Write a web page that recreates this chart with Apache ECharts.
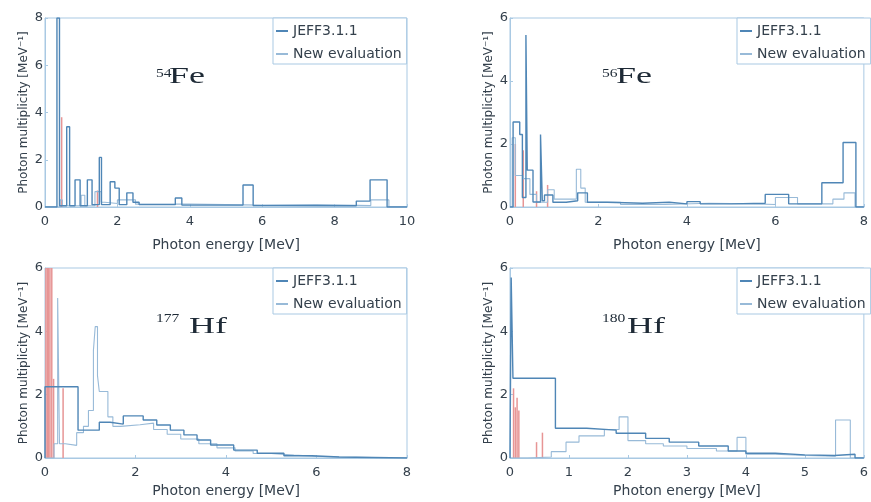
<!DOCTYPE html>
<html>
<head>
<meta charset="utf-8">
<script src="https://cdn.jsdelivr.net/npm/echarts@6/dist/echarts.min.js"></script>
<style>html,body{margin:0;padding:0;background:#fff;}#c{width:871px;height:502px;}</style>
</head>
<body>
<div id="c"></div>
<script>
// ---------- DATA ----------
const seriesNames = ['JEFF3.1.1', 'New evaluation'];
const xTitle = 'Photon energy [MeV]';
const yTitle = 'Photon multiplicity [MeV\u207B\u00B9]';

// 54Fe (x 0..10, y 0..8)
const fe54JeffEdges = [0, 0.33, 0.40, 0.60, 0.68, 0.83, 0.97, 1.17, 1.30, 1.50, 1.56, 1.80, 1.93, 2.05, 2.26, 2.43, 2.6, 3.6, 3.78, 5.47, 5.75, 6.5, 8.6, 8.98, 9.45, 10];
const fe54JeffVals  = [0, 8.0, 0.05, 3.4, 0.05, 1.15, 0.05, 1.15, 0.1, 2.1, 0.1, 1.07, 0.8, 0.1, 0.6, 0.2, 0.1, 0.38, 0.08, 0.93, 0.06, 0.05, 0.25, 1.15, 0];
const fe54NewEdges  = [0, 0.42, 0.48, 1.0, 1.1, 1.38, 1.55, 1.65, 2.0, 2.5, 4, 6, 7.5, 9.0, 9.5, 10];
const fe54NewVals   = [0, 0.3, 0.05, 0.5, 0.05, 0.65, 0.2, 0.15, 0.3, 0.12, 0.08, 0.1, 0.06, 0.3, 0];
const fe54RedX = [0.46, 1.45];
const fe54RedH = [3.8, 0.7];

// 56Fe (x 0..8, y 0..6)
const fe56JeffEdges = [0, 0.07, 0.22, 0.28, 0.36, 0.39, 0.52, 0.69, 0.73, 0.78, 0.97, 1.27, 1.53, 1.75, 2.2, 3.0, 3.6, 4.0, 4.3, 5.0, 5.77, 6.3, 7.05, 7.53, 7.82, 8];
const fe56JeffVals  = [0, 2.7, 2.3, 0.3, 5.46, 1.17, 0.16, 2.3, 0.2, 0.38, 0.15, 0.2, 0.45, 0.15, 0.12, 0.15, 0.1, 0.17, 0.1, 0.12, 0.4, 0.1, 0.77, 2.05, 0];
const fe56NewEdges  = [0, 0.05, 0.12, 0.3, 0.45, 0.6, 0.85, 1.0, 1.5, 1.6, 1.7, 2.5, 3.5, 4.5, 5.5, 6.0, 6.5, 7.0, 7.3, 7.55, 7.8, 8];
const fe56NewVals   = [0, 2.2, 1.0, 0.9, 0.4, 0.15, 0.55, 0.25, 1.2, 0.6, 0.15, 0.08, 0.12, 0.1, 0.08, 0.3, 0.1, 0.1, 0.25, 0.45, 0];
const fe56RedX = [0.12, 0.30, 0.60, 0.85];
const fe56RedH = [2.0, 1.8, 0.5, 0.7];

// 177Hf (x 0..8, y 0..6)
const hf177JeffEdges = [0, 0.73, 1.2, 1.44, 1.73, 2.17, 2.47, 2.77, 3.07, 3.36, 3.66, 4.17, 4.69, 5.28, 5.9, 6.5, 8];
const hf177JeffVals  = [2.25, 0.88, 1.13, 1.07, 1.33, 1.2, 1.04, 0.88, 0.73, 0.57, 0.41, 0.25, 0.15, 0.07, 0.03, 0];
const hf177NewEdges  = [0, 0.2, 0.28, 0.32, 0.45, 0.7, 0.85, 0.96, 1.07, 1.11, 1.16, 1.2, 1.39, 1.5, 1.67, 2.1, 2.4, 2.7, 3.0, 3.4, 3.8, 4.2, 4.6, 5.0, 5.5, 6.0, 6.5, 8];
const hf177NewVals   = [0, 0.45, 5.05, 0.45, 0.4, 0.8, 1.0, 1.5, 3.4, 4.15, 2.6, 2.1, 1.3, 1.0, 1.05, 1.1, 0.9, 0.75, 0.6, 0.45, 0.32, 0.22, 0.14, 0.09, 0.05, 0.03, 0];
const hf177RedX = [0.02, 0.05, 0.08, 0.11, 0.15, 0.19, 0.40];
const hf177RedH = [6.5, 6.5, 6.5, 6.5, 6.5, 2.5, 2.2];

// 180Hf (x 0..6, y 0..6)
const hf180JeffEdges = [0, 0.02, 0.05, 0.77, 1.3, 1.8, 2.3, 2.7, 3.2, 3.7, 4.0, 4.5, 5.0, 5.5, 5.85, 6];
const hf180JeffVals  = [0, 5.7, 2.52, 0.94, 0.88, 0.78, 0.62, 0.5, 0.38, 0.22, 0.15, 0.1, 0.08, 0.12, 0];
const hf180NewEdges  = [0, 0.3, 0.7, 0.95, 1.17, 1.6, 1.85, 2.0, 2.3, 2.6, 3.0, 3.5, 3.85, 4.0, 4.5, 5.0, 5.52, 5.77, 6];
const hf180NewVals   = [0, 0.03, 0.2, 0.5, 0.7, 0.9, 1.3, 0.55, 0.45, 0.38, 0.3, 0.22, 0.65, 0.12, 0.08, 0.06, 1.2, 0];
const hf180RedX = [0.06, 0.09, 0.12, 0.15, 0.45, 0.55];
const hf180RedH = [2.2, 1.6, 1.9, 1.5, 0.5, 0.8];

// axis ranges / ticks
const xMax = [10, 8, 8, 6];
const xStep = [2, 2, 2, 1];
const yMax = [8, 6, 6, 6];
const yStep = [2, 2, 2, 2];
const isoMass = ['54', '56', '177', '180'];
const isoElem = ['Fe', 'Fe', 'Hf', 'Hf'];

// ---------- BUILD ----------
function hist(edges, vals) {
  const pts = [[edges[0], 0]];
  for (let i = 0; i < vals.length; i++) {
    pts.push([edges[i], vals[i]]);
    pts.push([edges[i + 1], vals[i]]);
  }
  pts.push([edges[edges.length - 1], 0]);
  return pts;
}
function spikes(xs, hs) { return xs.map((x, i) => [x, hs[i]]); }

const panels = [
  {je: fe54JeffEdges, jv: fe54JeffVals, ne: fe54NewEdges, nv: fe54NewVals, rx: fe54RedX, rh: fe54RedH},
  {je: fe56JeffEdges, jv: fe56JeffVals, ne: fe56NewEdges, nv: fe56NewVals, rx: fe56RedX, rh: fe56RedH},
  {je: hf177JeffEdges, jv: hf177JeffVals, ne: hf177NewEdges, nv: hf177NewVals, rx: hf177RedX, rh: hf177RedH},
  {je: hf180JeffEdges, jv: hf180JeffVals, ne: hf180NewEdges, nv: hf180NewVals, rx: hf180RedX, rh: hf180RedH}
];

const FONT = '"DejaVu Sans", sans-serif';
const TXT = '#34404c';
const BOX = '#a9c9e3';
const C_JEFF = '#4f86b6';
const C_NEW = '#98bad8';
const C_RED = '#e79595';

const grids = [
  {left: 45, top: 18, width: 362, height: 189},
  {left: 510, top: 18, width: 359, height: 189},
  {left: 45, top: 268, width: 362, height: 190},
  {left: 510, top: 268, width: 359, height: 190}
];
const xNameGap = [31, 31, 26, 26];
const legendPos = [
  {left: 273, top: 18}, {left: 737, top: 18}, {left: 273, top: 268}, {left: 737, top: 268}
];
const labelPos = [
  {sx: 156, sy: 68, ex: 169, ey: 65},
  {sx: 602, sy: 68, ex: 616, ey: 65},
  {sx: 156, sy: 313, ex: 189, ey: 315},
  {sx: 602, sy: 313, ex: 627, ey: 315}
];

const option = {
  animation: false,
  backgroundColor: '#fff',
  grid: grids.map(g => Object.assign({show: true, borderColor: BOX, borderWidth: 1, containLabel: false}, g)),
  xAxis: grids.map((g, i) => ({
    type: 'value', gridIndex: i, min: 0, max: xMax[i], interval: xStep[i],
    name: xTitle, nameLocation: 'middle', nameGap: xNameGap[i],
    nameTextStyle: {fontFamily: FONT, fontSize: 14, color: TXT},
    axisLine: {show: true, lineStyle: {color: BOX}},
    axisTick: {show: true, inside: true, length: 3, lineStyle: {color: BOX}},
    axisLabel: {fontFamily: FONT, fontSize: 13, color: TXT, margin: 8},
    splitLine: {show: false}
  })),
  yAxis: grids.map((g, i) => ({
    type: 'value', gridIndex: i, min: 0, max: yMax[i], interval: yStep[i],
    name: yTitle, nameLocation: 'middle', nameGap: 15, nameRotate: 90,
    nameTextStyle: {fontFamily: FONT, fontSize: 12, color: TXT},
    axisLine: {show: true, lineStyle: {color: BOX}},
    axisTick: {show: true, inside: true, length: 3, lineStyle: {color: BOX}},
    axisLabel: {fontFamily: FONT, fontSize: 13, color: TXT, margin: 2},
    splitLine: {show: false}
  })),
  legend: legendPos.map(p => ({
    data: seriesNames, orient: 'vertical', left: p.left, top: p.top,
    padding: [6, 5, 3, 3], itemGap: 9, itemWidth: 12, itemHeight: 2, icon: 'rect',
    borderColor: BOX, borderWidth: 1, backgroundColor: '#fff',
    textStyle: {fontFamily: FONT, fontSize: 14, color: TXT}, selectedMode: false
  })),
  graphic: labelPos.flatMap((p, i) => ([
    {type: 'text', x: p.sx, y: p.sy, scaleX: 1.3, style: {text: isoMass[i], font: '12px "Liberation Serif"', fill: '#1e2a36'}},
    {type: 'text', x: p.ex, y: p.ey, scaleX: 1.5, style: {text: isoElem[i], font: '24px "Liberation Serif"', fill: '#1e2a36'}}
  ])),
  series: []
};

panels.forEach((p, i) => {
  option.series.push({
    name: 'discrete', type: 'bar', xAxisIndex: i, yAxisIndex: i, barWidth: 1.5,
    itemStyle: {color: C_RED}, data: spikes(p.rx, p.rh), clip: true, silent: true
  });
  option.series.push({
    name: seriesNames[1], type: 'line', xAxisIndex: i, yAxisIndex: i, showSymbol: false,
    lineStyle: {color: C_NEW, width: 1.1}, itemStyle: {color: C_NEW}, data: hist(p.ne, p.nv), clip: true
  });
  option.series.push({
    name: seriesNames[0], type: 'line', xAxisIndex: i, yAxisIndex: i, showSymbol: false,
    lineStyle: {color: C_JEFF, width: 1.4}, itemStyle: {color: C_JEFF}, data: hist(p.je, p.jv), clip: true
  });
});

const chart = echarts.init(document.getElementById('c'), null, {renderer: 'canvas'});
chart.setOption(option);
</script>
</body>
</html>
